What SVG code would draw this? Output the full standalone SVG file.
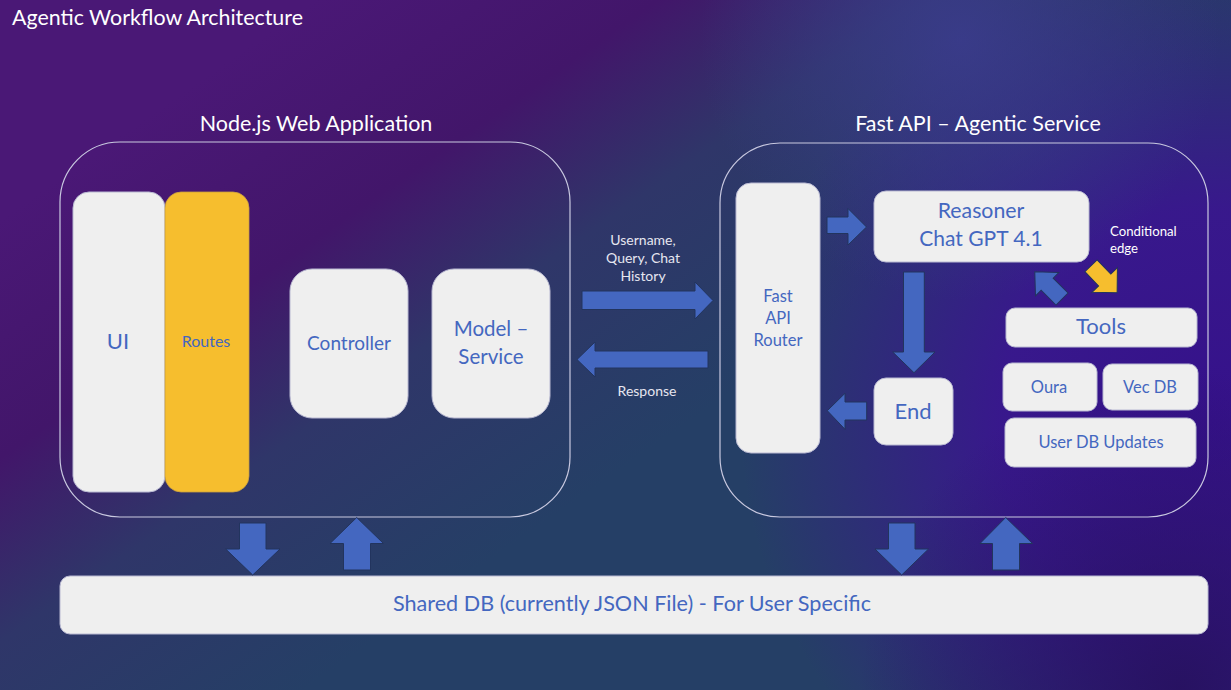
<svg xmlns="http://www.w3.org/2000/svg" width="1231" height="690" viewBox="0 0 1231 690">
<defs>
<linearGradient id="bgBase" gradientUnits="userSpaceOnUse" x1="200" y1="80" x2="520" y2="540">
<stop offset="0" stop-color="#4a1876"/>
<stop offset="0.35" stop-color="#42166a"/>
<stop offset="0.62" stop-color="#2f3669"/>
<stop offset="1" stop-color="#253f66"/>
</linearGradient>
<radialGradient id="bgRight" gradientUnits="userSpaceOnUse" cx="1210" cy="420" r="470">
<stop offset="0" stop-color="#35118a" stop-opacity="1"/>
<stop offset="0.45" stop-color="#3a1490" stop-opacity="0.9"/>
<stop offset="1" stop-color="#3a1490" stop-opacity="0"/>
</radialGradient>
<radialGradient id="bgTop" gradientUnits="userSpaceOnUse" cx="960" cy="40" r="260">
<stop offset="0" stop-color="#3c3c90" stop-opacity="0.8"/>
<stop offset="1" stop-color="#3c3c90" stop-opacity="0"/>
</radialGradient>
<radialGradient id="bgBR" gradientUnits="userSpaceOnUse" cx="1180" cy="690" r="320">
<stop offset="0" stop-color="#26105e" stop-opacity="0.9"/>
<stop offset="1" stop-color="#26105e" stop-opacity="0"/>
</radialGradient>
<style>
.box{fill:#efefef;stroke:#b9b9d2;stroke-width:1}
.frame{fill:none;stroke:#c9c9e0;stroke-width:1.2}
.arrow{fill:#4467c0;stroke:#22345e;stroke-width:1;stroke-linejoin:miter}
.yarrow{fill:#f6be2e;stroke:#22345e;stroke-width:1}
.t{font-family:Lato,"Open Sans","Liberation Sans",sans-serif;fill:#4467c0;text-anchor:middle}
.w{font-family:Lato,"Open Sans","Liberation Sans",sans-serif;fill:#ffffff}
.lbl{font-family:Lato,"Open Sans","Liberation Sans",sans-serif;fill:#e6e6f0;text-anchor:middle;font-size:14px}
</style>
</defs>

<g id="background">
<rect x="0" y="0" width="1231" height="690" fill="url(#bgBase)"/>
<rect x="0" y="0" width="1231" height="690" fill="url(#bgRight)"/>
<rect x="0" y="0" width="1231" height="690" fill="url(#bgTop)"/>
<rect x="0" y="0" width="1231" height="690" fill="url(#bgBR)"/>
</g>

<text class="w" x="12" y="25" font-size="21.4">Agentic Workflow Architecture</text>

<g id="nodejs-app">
<text class="w" x="316" y="131" font-size="21.5" text-anchor="middle">Node.js Web Application</text>
<rect class="frame" x="60" y="142" width="510" height="375" rx="60"/>
</g>

<g id="fastapi-service">
<text class="w" x="978" y="131" font-size="21.5" text-anchor="middle">Fast API – Agentic Service</text>
<rect class="frame" x="720" y="143" width="488" height="374" rx="60"/>
</g>

<g id="ui">
<rect class="box" x="73" y="192" width="92" height="300" rx="16"/>
<text class="t" x="118" y="349" font-size="22">UI</text>
</g>
<g id="routes">
<rect x="165" y="192" width="84" height="300" rx="16" fill="#f6be2e" stroke="#c9a040" stroke-width="0.8"/>
<text class="t" x="206" y="347" font-size="16">Routes</text>
</g>
<g id="controller">
<rect class="box" x="290" y="269" width="118" height="149" rx="22"/>
<text class="t" x="349" y="350" font-size="19">Controller</text>
</g>
<g id="model-service">
<rect class="box" x="432" y="269" width="118" height="149" rx="22"/>
<text class="t" x="491" y="336" font-size="20.5">Model –</text>
<text class="t" x="491" y="364" font-size="20.5">Service</text>
</g>

<g id="fastapi-router">
<rect class="box" x="736" y="183" width="84" height="270" rx="15"/>
<text class="t" x="778" y="302" font-size="16.5">Fast</text>
<text class="t" x="778" y="324" font-size="16.5">API</text>
<text class="t" x="778" y="346" font-size="16.5">Router</text>
</g>
<g id="reasoner">
<rect class="box" x="874" y="191" width="215" height="71" rx="12"/>
<text class="t" x="981" y="218" font-size="21.3">Reasoner</text>
<text class="t" x="981" y="246" font-size="21">Chat GPT 4.1</text>
</g>
<g id="end">
<rect class="box" x="874" y="378" width="79" height="67" rx="12"/>
<text class="t" x="913" y="419" font-size="22">End</text>
</g>
<g id="tools">
<rect class="box" x="1006" y="308" width="191" height="39" rx="9"/>
<text class="t" x="1101" y="334" font-size="22">Tools</text>
</g>
<g id="oura">
<rect class="box" x="1003" y="363" width="94" height="48" rx="9"/>
<text class="t" x="1049" y="393" font-size="16.5">Oura</text>
</g>
<g id="vecdb">
<rect class="box" x="1103" y="364" width="95" height="46" rx="9"/>
<text class="t" x="1150" y="393" font-size="16.5">Vec DB</text>
</g>
<g id="userdb">
<rect class="box" x="1005" y="418" width="191" height="49" rx="9"/>
<text class="t" x="1101" y="448" font-size="16.5">User DB Updates</text>
</g>

<g id="shared-db">
<rect class="box" x="60" y="576" width="1148" height="58" rx="10"/>
<text class="t" x="632" y="611" font-size="21.6">Shared DB (currently JSON File) - For User Specific</text>
</g>

<g id="connectors">
<polygon class="arrow" points="582,291 695,291 695,282 713,300.5 695,319 695,309.5 582,309.5"/>
<text class="lbl" x="643" y="245">Username,</text>
<text class="lbl" x="643" y="263">Query, Chat</text>
<text class="lbl" x="643" y="281">History</text>
<polygon class="arrow" points="708,351 595,351 595,342 577,359.5 595,377 595,368 708,368"/>
<text class="lbl" x="647" y="396">Response</text>
<polygon class="arrow" points="827,217 848,217 848,208.5 866.5,227 848,245 848,233.5 827,233.5"/>
<polygon class="arrow" points="903.5,272 924.3,272 924.3,352 935,352 914,372.7 892.7,352 903.5,352"/>
<polygon class="arrow" points="866.7,402 845,402 845,393.3 827.3,410.7 845,429.3 845,420 866.7,420"/>
<polygon class="arrow" transform="translate(1062,299) rotate(225)" points="0,-8.5 21,-8.5 21,-16.5 38.5,0 21,16.5 21,8.5 0,8.5"/>
<polygon class="yarrow" transform="translate(1091,265.8) rotate(46)" points="0,-8.5 19.7,-8.5 19.7,-17.7 37.6,0 19.7,17.7 19.7,8.5 0,8.5"/>
<text class="w" x="1110" y="236" font-size="13.2">Conditional</text>
<text class="w" x="1110" y="253" font-size="13.2">edge</text>
<polygon class="arrow" points="239.5,523 266,523 266,549 280,549 252.7,575 225.7,549 239.5,549"/>
<polygon class="arrow" points="343.5,570 370.5,570 370.5,543.5 383.5,543.5 356.7,517.5 330,543.5 343.5,543.5"/>
<polygon class="arrow" points="888.5,523 915,523 915,549 928.5,549 901.7,575 875,549 888.5,549"/>
<polygon class="arrow" points="992.5,570 1019.5,570 1019.5,543.5 1032.5,543.5 1005.7,517.5 980,543.5 992.5,543.5"/>
</g>
</svg>
